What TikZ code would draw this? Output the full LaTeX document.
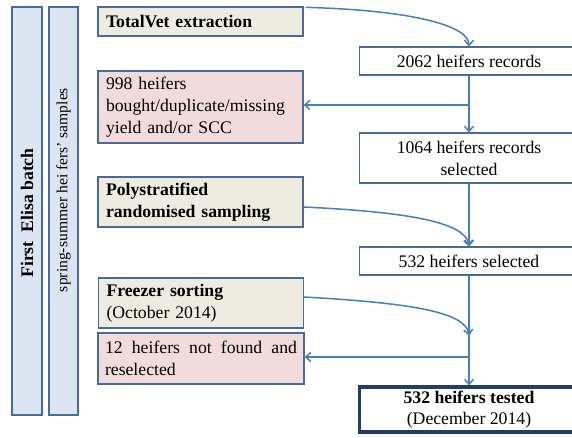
\documentclass[tikz,border=0pt]{standalone}
\usepackage{fontspec}
\setmainfont{Liberation Serif}
\usetikzlibrary{arrows.meta,calc}
\definecolor{bordc}{HTML}{4A6A9A}
\definecolor{arrc}{HTML}{4A7EBB}
\definecolor{barfill}{HTML}{DCE6F2}
\definecolor{tanfill}{HTML}{EEECE1}
\definecolor{pinkfill}{HTML}{F2DCDB}
\definecolor{darkb}{HTML}{1F3E6E}
\newcommand\fsz{\fontsize{17.7pt}{21.7pt}\selectfont\hyphenpenalty=10000\exhyphenpenalty=10000}
\newcommand\fsm{\fontsize{15.6pt}{18pt}\selectfont}
\begin{document}
\begin{tikzpicture}[x=1pt,y=-1pt,
  box/.style={draw=bordc,line width=1.3pt,inner sep=0pt,anchor=center},
  lbox/.style={box,minimum width=205pt,text width=189pt,align=left,inner xsep=8pt,font=\fsz},
  tanbox/.style={lbox,fill=tanfill},
  pinkbox/.style={lbox,fill=pinkfill},
  rbox/.style={box,fill=white,minimum width=219pt,align=center,font=\fsz},
  barbox/.style={box,fill=barfill,minimum height=408pt},
  arr/.style={draw=arrc,line width=1.5pt,-{Straight Barb[length=5pt,width=9pt]}}
]
\useasboundingbox[clip] (0,0) rectangle (572,437);
% side bars
\node[barbox,minimum width=30pt] (bar1) at (27,211) {};
\node[rotate=90,font=\fsz\bfseries] (bar1txt) at (27,213) {First\ \ Elisa batch};
\node[barbox,minimum width=29pt] (bar2) at (63.5,211) {};
\node[rotate=90,font=\fsm] (bar2txt) at (63.5,190) {spring-summer hei fers’ samples};
% left boxes
\node[tanbox,minimum height=29pt] (tv) at (200.5,21.5) {\bfseries TotalVet extraction};
\node[pinkbox,minimum height=72pt] (b998) at (200.5,107) {998 heifers\\bought/duplicate/missing\\yield and/or SCC};
\node[tanbox,minimum height=50pt] (poly) at (200.5,202) {\bfseries Polystratified\\randomised sampling};
\node[tanbox,minimum height=50pt] (freezer) at (201,303) {\textbf{Freezer sorting}\\(October 2014)};
\node[pinkbox,minimum height=51pt,align=justify,text width=192pt,minimum width=206pt,inner xsep=7pt] (r12) at (201,358.5) {12 heifers not found and reselected};
% right boxes
\node[rbox,minimum height=28pt] (r2062) at (469,61) {2062 heifers records};
\node[rbox,minimum height=50pt] (r1064) at (469,158) {1064 heifers records\\selected};
\node[rbox,minimum height=28pt] (r532s) at (469,261) {532 heifers selected};
\node[rbox,minimum height=45pt,draw=darkb,line width=3.2pt] (r532t) at (469,409.5) {\textbf{532 heifers tested}\\(December 2014)};
% connectors
\coordinate (tvs) at ($(tv.north east)+(2,1)$);
\draw[arr] (tvs) .. controls ($(tvs)+(110,3)$) and ($(r2062.north)+(0,-20)$) .. (r2062.north);
\draw[arr] (r2062.south) -- (r1064.north);
\coordinate (b1) at ($(r2062.south |- b998.east)+(0,-2)$);
\draw[arr] (b1) -- ($(b998.east)+(0,-2)$);
\draw[arr] (r1064.south) -- (r532s.north);
\coordinate (ps) at ($(poly.east)+(0,5)$);
\draw[arr] (ps) .. controls ($(ps)+(105,5)$) and ($(r532s.north)+(-3,-24)$) .. (r532s.north);
\draw[arr] (r532s.south) -- (r532t.north);
\coordinate (fs) at ($(freezer.east)+(0,-6)$);
\coordinate (fe) at ($(r532s.south)+(0,60)$);
\draw[arr] (fs) .. controls ($(fs)+(105,6)$) and ($(fe)+(-3,-24)$) .. (fe);
\coordinate (b2) at ($(r532s.south |- r12.east)+(0,-1.5)$);
\draw[arr] (b2) -- ($(r12.east)+(0,-1.5)$);
\end{tikzpicture}
\end{document}
